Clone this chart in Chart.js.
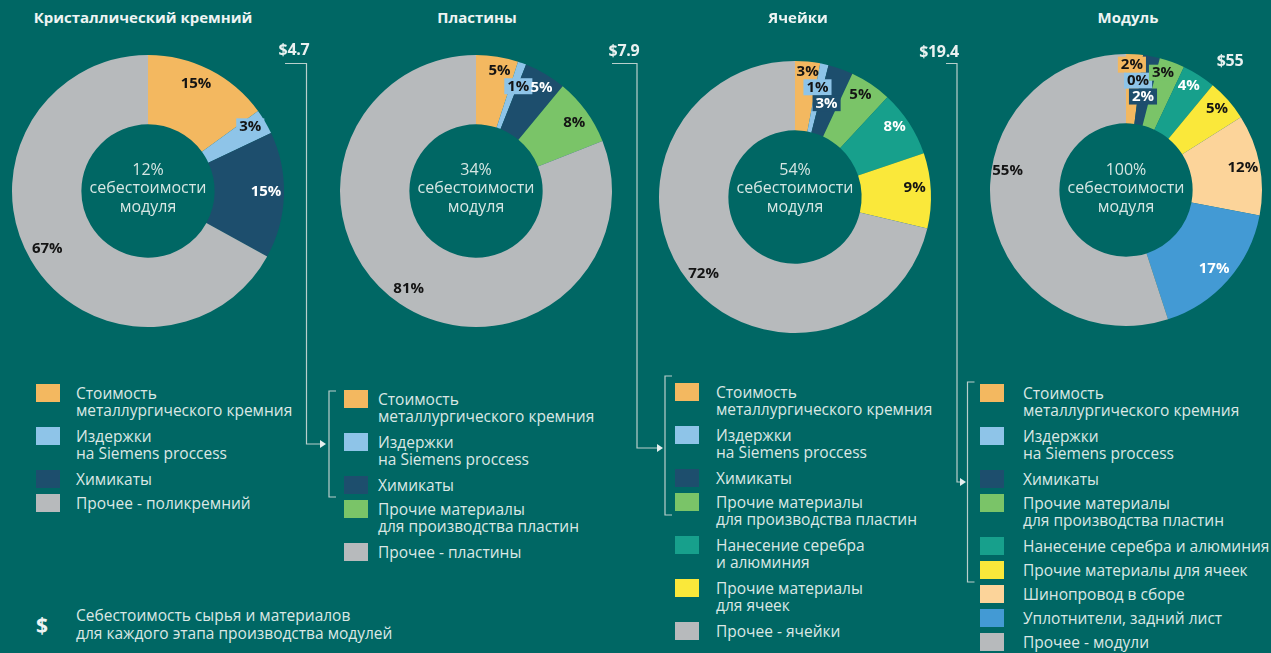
<!DOCTYPE html>
<html>
<head>
<meta charset="utf-8">
<script src="https://cdn.jsdelivr.net/npm/chart.js@4/dist/chart.umd.min.js"></script>
<style>
  html, body { margin: 0; padding: 0; }
  body {
    width: 1271px; height: 653px; overflow: hidden; position: relative;
    background: #006764; font-family: "Open Sans", "Noto Sans", sans-serif; color: #dbe7e5;
  }
  canvas.donut { position: absolute; }
  .title {
    position: absolute; top: 7px; transform: translateX(-50%); white-space: nowrap;
    font-weight: 700; font-size: 15px; color: #eef4f3;
  }
  .cost {
    position: absolute; transform: translate(-50%, -50%); white-space: nowrap;
    font-weight: 700; font-size: 16px; color: #e9f1f0; letter-spacing: -0.3px;
  }
  .legend { position: absolute; }
  .item { display: flex; align-items: flex-start; margin-bottom: 6px; }
  .swatch { width: 24px; height: 18px; flex: none; }
  .text { font-size: 15.5px; line-height: 17px; white-space: pre; margin-top: 1px; }
  .text.multi { padding-bottom: 2px; }
  .note { position: absolute; left: 36px; top: 607px; display: flex; align-items: center; }
  .note .dollar { width: 40px; font-weight: 700; font-size: 21px; color: #eef4f3; }
  .note .text { margin-top: 0; line-height: 17.5px; }
  svg.links { position: absolute; left: 0; top: 0; pointer-events: none; }
</style>
</head>
<body>
<svg class="links" width="1271" height="653" id="links"></svg>
<div class="note"><div class="dollar">$</div><div class="text">Себестоимость сырья и материалов
для каждого этапа производства модулей</div></div>

<script>
// Stage titles, raw-material cost per stage and share of the final module cost
const stageTitles = ['Кристаллический кремний', 'Пластины', 'Ячейки', 'Модуль'];
const stageCosts = ['$4.7', '$7.9', '$19.4', '$55'];
const stageShares = ['12%', '34%', '54%', '100%'];
const centerCaption = ['себестоимости', 'модуля'];

// Cost structure of each stage, percent
const polysiliconLabels = ['Стоимость\nметаллургического кремния', 'Издержки\nна Siemens proccess', 'Химикаты', 'Прочее - поликремний'];
const polysiliconValues = [15, 3, 15, 67];

const waferLabels = ['Стоимость\nметаллургического кремния', 'Издержки\nна Siemens proccess', 'Химикаты',
  'Прочие материалы\nдля производства пластин', 'Прочее - пластины'];
const waferValues = [5, 1, 5, 8, 81];

const cellLabels = ['Стоимость\nметаллургического кремния', 'Издержки\nна Siemens proccess', 'Химикаты',
  'Прочие материалы\nдля производства пластин', 'Нанесение серебра\nи алюминия', 'Прочие материалы\nдля ячеек', 'Прочее - ячейки'];
const cellValues = [3, 1, 3, 5, 8, 9, 72];

const moduleLabels = ['Стоимость\nметаллургического кремния', 'Издержки\nна Siemens proccess', 'Химикаты',
  'Прочие материалы\nдля производства пластин', 'Нанесение серебра и алюминия', 'Прочие материалы для ячеек',
  'Шинопровод в сборе', 'Уплотнители, задний лист', 'Прочее - модули'];
const moduleValues = [2, 0, 2, 3, 4, 5, 12, 17, 55];

// Component colours in order of appearance; the last slice of every stage is "other"
const componentColors = ['#f3b860', '#8ec4e8', '#1d4e6d', '#7ac468', '#17a08c', '#fae83a', '#fcd49a', '#439ad4'];
const otherColor = '#b7babc';
const darkSlices = ['#1d4e6d', '#17a08c', '#439ad4'];

// Geometry of the four panels; label placement = [angle shift in degrees, distance from centre, boxed]
const panels = [
  { labels: polysiliconLabels, values: polysiliconValues, cx: 148, cy: 191, textY: 188.5, titleX: 143,
    place: [[-3, 118], [-1.7, 121, true], [-1.8, 118], [0.9, 116]],
    cost: [294, 49], legend: { top: 384, left: 36, gap: 16 } },
  { labels: waferLabels, values: waferValues, cx: 476, cy: 191, textY: 188.5, titleX: 477,
    place: [[2, 123], [2.2, 113, true], [1.6, 123], [1, 120], [0.6, 118]],
    cost: [624, 50], legend: { top: 390, left: 344, gap: 10 } },
  { labels: cellLabels, values: cellValues, cx: 795, cy: 197, textY: 188.5, titleX: 798,
    place: [[0.4, 126], [-0.9, 112, true], [-1, 99, true], [-1.3, 121.5], [-2.3, 122], [-1.8, 120], [-1.5, 119]],
    cost: [939, 51], legend: { top: 383, left: 675, gap: 17 } },
  { labels: moduleLabels, values: moduleValues, cx: 1126, cy: 190, textY: 188.5, titleX: 1128,
    place: [[-0.9, 125.5, true], [-0.9, 110, true], [-0.5, 95, true], [-2.3, 123, true], [-1.4, 122],
            [-0.4, 122], [-0.1, 119], [0.3, 118], [18.4, 120]],
    cost: [1230, 60], legend: { top: 384, left: 980, gap: 19 } }
];

const CANVAS = 300;

// Percent labels on the slices, optionally on a box in the slice colour
const sliceLabels = {
  id: 'sliceLabels',
  afterDatasetsDraw(chart, args, opts) {
    const { ctx } = chart;
    const meta = chart.getDatasetMeta(0);
    const ds = chart.data.datasets[0];
    ctx.save();
    ctx.font = '700 15px "Open Sans", sans-serif';
    ctx.textAlign = 'center';
    ctx.textBaseline = 'middle';
    meta.data.forEach((arc, i) => {
      const p = arc.getProps(['x', 'y', 'startAngle', 'endAngle'], true);
      const [shift, r, boxed] = opts.place[i] || [0, 118, false];
      const a = (p.startAngle + p.endAngle) / 2 + shift * Math.PI / 180;
      const x = p.x + Math.cos(a) * r;
      const y = p.y + Math.sin(a) * r;
      const color = ds.backgroundColor[i];
      const text = ds.data[i] + '%';
      if (boxed) {
        const w = ctx.measureText(text).width + 6;
        ctx.fillStyle = color;
        ctx.fillRect(x - w / 2, y - 8, w, 16);
      }
      ctx.fillStyle = darkSlices.includes(color) ? '#ffffff' : '#141414';
      ctx.fillText(text, x, y + 0.5);
    });
    ctx.restore();
  }
};

// Caption in the hole of the ring
const centerText = {
  id: 'centerText',
  afterDraw(chart, args, opts) {
    const { ctx } = chart;
    const arc = chart.getDatasetMeta(0).data[0];
    const cx = arc.x, cy = arc.y + opts.dy;
    ctx.save();
    ctx.font = '400 16px "Open Sans", sans-serif';
    ctx.textAlign = 'center';
    ctx.textBaseline = 'middle';
    ctx.fillStyle = '#d6e6e3';
    opts.lines.forEach((line, k) => ctx.fillText(line, cx, cy + (k - 1) * 18.5));
    ctx.restore();
  }
};

panels.forEach((p, idx) => {
  const colors = p.values.map((v, i) => i === p.values.length - 1 ? otherColor : componentColors[i]);

  const cv = document.createElement('canvas');
  cv.className = 'donut';
  cv.width = CANVAS; cv.height = CANVAS;
  cv.style.left = (p.cx - CANVAS / 2) + 'px';
  cv.style.top = (p.cy - CANVAS / 2) + 'px';
  document.body.appendChild(cv);

  new Chart(cv, {
    type: 'doughnut',
    data: {
      labels: p.labels,
      datasets: [{ data: p.values, backgroundColor: colors, borderWidth: 0 }]
    },
    options: {
      responsive: false,
      animation: false,
      devicePixelRatio: 1,
      radius: 136,
      cutout: '49%',
      plugins: {
        legend: { display: false },
        tooltip: { enabled: false },
        sliceLabels: { place: p.place },
        centerText: { lines: [stageShares[idx], ...centerCaption], dy: p.textY - p.cy }
      }
    },
    plugins: [sliceLabels, centerText]
  });

  const t = document.createElement('div');
  t.className = 'title';
  t.style.left = p.titleX + 'px';
  t.textContent = stageTitles[idx];
  document.body.appendChild(t);

  const c = document.createElement('div');
  c.className = 'cost';
  c.style.left = p.cost[0] + 'px';
  c.style.top = p.cost[1] + 'px';
  c.textContent = stageCosts[idx];
  document.body.appendChild(c);

  const lg = document.createElement('div');
  lg.className = 'legend';
  lg.style.left = p.legend.left + 'px';
  lg.style.top = p.legend.top + 'px';
  p.labels.forEach((lab, i) => {
    const it = document.createElement('div');
    it.className = 'item';
    const sw = document.createElement('div');
    sw.className = 'swatch';
    sw.style.background = colors[i];
    const tx = document.createElement('div');
    tx.className = lab.includes('\n') ? 'text multi' : 'text';
    tx.style.marginLeft = p.legend.gap + 'px';
    tx.textContent = lab;
    it.appendChild(sw); it.appendChild(tx);
    lg.appendChild(it);
  });
  document.body.appendChild(lg);
});

// Connectors: each stage cost flows into the matching group of the next legend
const links = [
  { from: [285, 63.5], x: 306.5, y: 444, tip: 326, bracket: [329, 391, 497] },
  { from: [612, 63.5], x: 637, y: 448, tip: 663, bracket: [665, 376, 515] },
  { from: [946, 63.5], x: 957, y: 482, tip: 966, bracket: [967.5, 382, 582] }
];
const svg = document.getElementById('links');
const stroke = '#b9cfcc';
let html = '';
links.forEach(l => {
  html += `<path d="M${l.from[0]},${l.from[1]} H${l.x} V${l.y} H${l.tip - 5}" fill="none" stroke="${stroke}" stroke-width="1.2"/>`;
  html += `<path d="M${l.tip - 6},${l.y - 4} L${l.tip},${l.y} L${l.tip - 6},${l.y + 4} Z" fill="#e6efee"/>`;
  const [bx, by0, by1] = l.bracket;
  html += `<path d="M${bx + 7},${by0} H${bx} V${by1} H${bx + 7}" fill="none" stroke="${stroke}" stroke-width="1.2"/>`;
});
svg.innerHTML = html;
</script>
</body>
</html>
